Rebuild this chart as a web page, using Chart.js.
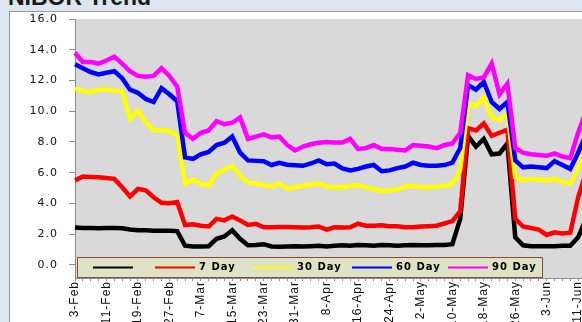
<!DOCTYPE html>
<html>
<head>
<meta charset="utf-8">
<script src="https://cdn.jsdelivr.net/npm/chart.js@4.4.1/dist/chart.umd.min.js"></script>
<style>
  html, body { margin: 0; padding: 0; }
  body { width: 582px; height: 322px; overflow: hidden; background: #dce5f0; position: relative; }
  #frame { position: absolute; left: 9px; top: 11px; width: 640px; height: 340px; background: #fff; border: 1px solid #9a9a9a; }
  #title { position: absolute; left: 8px; top: -14px; font: bold 23px "Liberation Sans", Arial, sans-serif; line-height: 22px; color: #1a1a1a; white-space: nowrap; }
  #wrap { position: absolute; left: 0; top: 0; width: 610px; height: 322px; }
</style>
</head>
<body>
<div id="frame"></div>
<div id="title">NIBOR Trend</div>
<div id="wrap"><canvas id="nibor"></canvas></div>

<script>
const dates = [
  '3-Feb', '5-Feb', '7-Feb', '9-Feb', '11-Feb', '13-Feb', '15-Feb', '17-Feb', '19-Feb', '21-Feb', '23-Feb', '25-Feb', '27-Feb',
  '1-Mar', '3-Mar', '5-Mar', '7-Mar', '9-Mar', '11-Mar', '13-Mar', '15-Mar', '17-Mar', '19-Mar', '21-Mar', '23-Mar', '25-Mar', '27-Mar', '29-Mar', '31-Mar',
  '2-Apr', '4-Apr', '6-Apr', '8-Apr', '10-Apr', '12-Apr', '14-Apr', '16-Apr', '18-Apr', '20-Apr', '22-Apr', '24-Apr', '26-Apr', '28-Apr', '30-Apr',
  '2-May', '4-May', '6-May', '8-May', '10-May', '12-May', '14-May', '16-May', '18-May', '20-May', '22-May', '24-May', '26-May', '28-May', '30-May',
  '1-Jun', '3-Jun', '5-Jun', '7-Jun', '9-Jun', '11-Jun', '13-Jun'
];

const overnight = [
  2.43, 2.4, 2.4, 2.38, 2.4, 2.4, 2.38, 2.3, 2.25, 2.25, 2.22, 2.22, 2.22, 2.2,
  1.25, 1.2, 1.2, 1.22, 1.7, 1.85, 2.25, 1.7, 1.28, 1.3, 1.35, 1.2, 1.18, 1.2, 1.22,
  1.2, 1.22, 1.25, 1.2, 1.25, 1.28, 1.25, 1.3, 1.28, 1.25, 1.3, 1.28, 1.25, 1.28, 1.3,
  1.28, 1.28, 1.3, 1.3, 1.35, 3.0, 8.4, 7.7, 8.2, 7.2, 7.25, 7.9, 1.8, 1.28, 1.22,
  1.22, 1.22, 1.22, 1.25, 1.25, 1.8, 3.0
];
const day7 = [
  5.5, 5.75, 5.72, 5.7, 5.65, 5.6, 5.05, 4.45, 4.95, 4.85, 4.4, 4.05, 4.02, 4.1,
  2.6, 2.65, 2.55, 2.5, 3.0, 2.9, 3.15, 2.9, 2.6, 2.68, 2.45, 2.45, 2.47, 2.47, 2.45,
  2.43, 2.45, 2.5, 2.3, 2.45, 2.43, 2.45, 2.68, 2.55, 2.55, 2.58, 2.52, 2.52, 2.45, 2.45,
  2.5, 2.52, 2.55, 2.7, 2.85, 3.5, 8.9, 8.75, 9.2, 8.4, 8.6, 8.8, 3.0, 2.5, 2.4,
  2.3, 1.95, 2.12, 2.05, 2.1, 4.4, 6.0
];
const day30 = [
  11.5, 11.3, 11.25, 11.4, 11.4, 11.35, 11.3, 9.5, 10.05, 9.3, 8.75, 8.8, 8.7, 8.45,
  5.3, 5.55, 5.25, 5.15, 5.95, 6.2, 6.45, 5.8, 5.35, 5.3, 5.2, 5.1, 5.3, 4.95, 5.05,
  5.15, 5.25, 5.3, 5.1, 5.05, 5.05, 5.15, 5.2, 5.05, 4.95, 4.8, 4.85, 4.9, 5.1, 5.15,
  5.05, 5.05, 5.1, 5.15, 5.27, 6.2, 10.5, 10.35, 10.9, 9.6, 9.45, 9.85, 5.7, 5.5, 5.6,
  5.55, 5.5, 5.6, 5.4, 5.3, 6.3, 7.8
];
const day60 = [
  13.05, 12.8, 12.55, 12.4, 12.5, 12.6, 12.15, 11.4, 11.2, 10.8, 10.6, 11.5, 11.1, 10.65,
  7.0, 6.9, 7.2, 7.35, 7.8, 7.95, 8.35, 7.3, 6.8, 6.77, 6.75, 6.5, 6.65, 6.52, 6.48,
  6.45, 6.6, 6.8, 6.55, 6.6, 6.28, 6.15, 6.25, 6.4, 6.5, 6.1, 6.15, 6.3, 6.4, 6.65,
  6.5, 6.45, 6.45, 6.5, 6.66, 7.6, 11.7, 11.4, 11.9, 10.6, 10.15, 10.6, 6.8, 6.35, 6.4,
  6.35, 6.3, 6.75, 6.5, 6.25, 7.3, 8.5
];
const day90 = [
  13.8, 13.2, 13.2, 13.1, 13.3, 13.55, 13.1, 12.6, 12.3, 12.25, 12.3, 12.8, 12.3, 11.6,
  8.6, 8.2, 8.6, 8.75, 9.35, 9.15, 9.25, 9.6, 8.2, 8.35, 8.5, 8.3, 8.35, 7.8, 7.45,
  7.7, 7.85, 7.95, 8.0, 7.96, 7.96, 8.2, 7.55, 7.6, 7.8, 7.55, 7.55, 7.5, 7.45, 7.8,
  7.75, 7.7, 7.6, 7.8, 7.9, 8.6, 12.35, 12.1, 12.2, 13.1, 11.1, 11.8, 7.6, 7.3, 7.2,
  7.15, 7.1, 7.25, 7.05, 6.95, 8.6, 10.0
];

const seriesNames  = ['', '7 Day', '30 Day', '60 Day', '90 Day'];
const seriesColors = ['#000000', '#ff0000', '#ffff00', '#0000ff', '#ff00ff'];
const yTicks = [0, 2, 4, 6, 8, 10, 12, 14, 16];

// gray plot background + slight letter spacing like the original render
const plotBg = {
  id: 'plotBg',
  beforeDraw(chart) {
    const { ctx, chartArea: a } = chart;
    ctx.letterSpacing = '1px';
    ctx.save();
    ctx.fillStyle = '#d9d9d9';
    ctx.fillRect(a.left, a.top, a.right - a.left, a.bottom - a.top);
    ctx.restore();
  }
};

// Excel style legend box sitting over the bottom of the plot
const boxLegend = {
  id: 'boxLegend',
  afterDraw(chart) {
    const ctx = chart.ctx;
    const entryX = [93, 155, 253, 352, 448];
    const midY = 267.5;
    ctx.save();
    ctx.fillStyle = '#dde3c4';
    ctx.fillRect(77, 257, 465, 20);
    ctx.strokeStyle = '#8b4a3a';
    ctx.lineWidth = 1;
    ctx.strokeRect(77.5, 257.5, 465, 20);
    ctx.font = 'bold 10px "DejaVu Sans", Verdana, sans-serif';
    ctx.textBaseline = 'middle';
    ctx.fillStyle = '#000';
    chart.data.datasets.forEach((ds, i) => {
      const x = entryX[i];
      ctx.strokeStyle = ds.borderColor;
      ctx.lineWidth = 2;
      ctx.beginPath();
      ctx.moveTo(x, midY);
      ctx.lineTo(x + 40, midY);
      ctx.stroke();
      if (ds.label) ctx.fillText(ds.label, x + 44, midY);
    });
    ctx.restore();
  }
};

const values = [overnight, day7, day30, day60, day90];

new Chart(document.getElementById('nibor'), {
  type: 'line',
  data: {
    labels: dates,
    datasets: values.map((v, i) => ({
      label: seriesNames[i],
      data: v,
      borderColor: seriesColors[i],
      backgroundColor: seriesColors[i],
      borderWidth: 4.5,
      pointRadius: 0,
      tension: 0,
      fill: false,
      order: values.length - i
    }))
  },
  options: {
    responsive: true,
    maintainAspectRatio: false,
    animation: false,
    layout: { padding: { top: 19, right: 24, left: 0, bottom: 0 } },
    plugins: {
      legend: { display: false },
      tooltip: { enabled: false }
    },
    scales: {
      x: {
        offset: false,
        grid: { display: true, drawOnChartArea: false, tickLength: 3, color: '#8c8c8c' },
        border: { color: '#8c8c8c' },
        ticks: {
          autoSkip: false,
          minRotation: 90,
          maxRotation: 90,
          padding: 0,
          color: '#111',
          font: { family: '"Liberation Sans", Arial, sans-serif', size: 12 },
          callback: (val, idx) => (idx % 4 === 0 ? dates[idx] : '')
        },
        afterFit: s => { s.height = 44; }
      },
      y: {
        min: -0.85,
        max: 16,
        grid: { display: true, drawOnChartArea: false, tickLength: 6, color: '#8c8c8c' },
        border: { color: '#8c8c8c' },
        afterBuildTicks: s => { s.ticks = yTicks.map(v => ({ value: v })); },
        ticks: {
          padding: 11,
          color: '#111',
          font: { family: '"DejaVu Sans", Verdana, sans-serif', size: 11 },
          callback: v => v.toFixed(1)
        },
        afterFit: s => { s.width = 75; }
      }
    }
  },
  plugins: [plotBg, boxLegend]
});
</script>
</body>
</html>
